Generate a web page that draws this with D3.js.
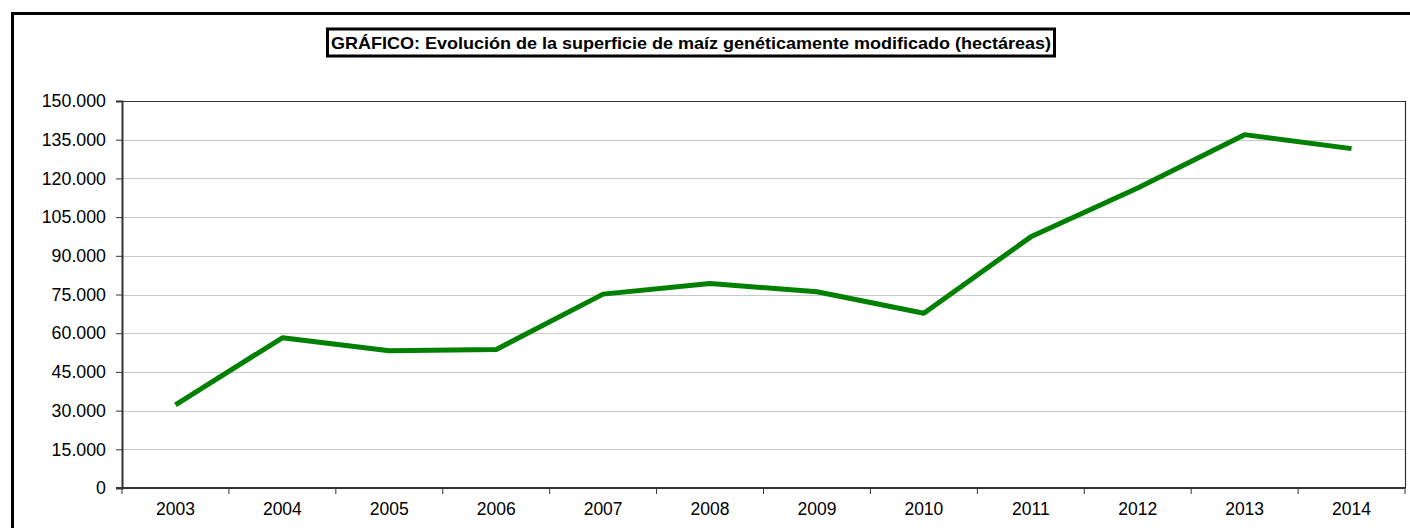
<!DOCTYPE html>
<html>
<head>
<meta charset="utf-8">
<script src="https://cdn.jsdelivr.net/npm/d3@7"></script>
<style>
  body { margin: 0; background: #fff; }
  svg { display: block; font-family: "Liberation Sans", Arial, sans-serif; }
</style>
</head>
<body>
<svg id="chart" width="1410" height="528"></svg>
<script>
let years = ["2003", "2004", "2005", "2006", "2007", "2008", "2009", "2010", "2011", "2012", "2013", "2014"];
let hectareas = [32249, 58219, 53225, 53667, 75148, 79269, 76057, 67726, 97346, 116307, 136962, 131538];
let yTicks = [0, 15000, 30000, 45000, 60000, 75000, 90000, 105000, 120000, 135000, 150000];
let titulo = "GRÁFICO: Evolución de la superficie de maíz genéticamente modificado (hectáreas)";

let svg = d3.select("#chart");

let margin = {left: 122, top: 101, right: 1405, bottom: 488};

let xScale = d3.scaleBand()
    .domain(years)
    .range([margin.left, margin.right]);

let yScale = d3.scaleLinear()
    .domain([0, 150000])
    .range([margin.bottom, margin.top]);

let fmt = d => d === 0 ? "0" : d3.format(",")(d).replace(/,/g, ".");

// outer frame
svg.append("rect")
    .attr("x", 12.5)
    .attr("y", 13.5)
    .attr("width", 1420)
    .attr("height", 540)
    .attr("fill", "none")
    .attr("stroke", "#000")
    .attr("stroke-width", 3);

// grid
svg.append("g")
    .selectAll("line")
    .data(yTicks.filter(d => d > 0 && d < 150000))
    .enter()
    .append("line")
    .attr("x1", margin.left)
    .attr("x2", margin.right)
    .attr("y1", d => Math.round(yScale(d)) + 0.5)
    .attr("y2", d => Math.round(yScale(d)) + 0.5)
    .attr("stroke", "#c8c8c8")
    .attr("stroke-width", 1);

// plot area top and right border
svg.append("path")
    .attr("d", `M${margin.left},${margin.top + 0.5}H${margin.right + 0.5}V${margin.bottom}`)
    .attr("fill", "none")
    .attr("stroke", "#333")
    .attr("stroke-width", 1.2);

// y axis
let yAxis = svg.append("g")
    .attr("transform", `translate(${margin.left},0)`)
    .call(d3.axisLeft(yScale).tickValues(yTicks).tickFormat(fmt).tickSize(6).tickPadding(10));
yAxis.select(".domain").attr("stroke", "#333").attr("stroke-width", 2);
yAxis.selectAll(".tick line").attr("stroke", "#333");
yAxis.selectAll("text")
    .attr("font-size", 17.8)
    .attr("font-family", "Liberation Sans, Arial, sans-serif")
    .attr("fill", "#000");

// x axis
let xAxis = svg.append("g")
    .attr("transform", `translate(0,${margin.bottom})`)
    .call(d3.axisBottom(xScale).tickSize(0).tickPadding(15));
xAxis.select(".domain").remove();
xAxis.selectAll("text")
    .attr("font-size", 17.5)
    .attr("font-family", "Liberation Sans, Arial, sans-serif")
    .attr("fill", "#000");

svg.append("g")
    .selectAll("line")
    .data(years.concat(["end"]))
    .enter()
    .append("line")
    .attr("x1", (d, i) => margin.left + i * xScale.step())
    .attr("x2", (d, i) => margin.left + i * xScale.step())
    .attr("y1", margin.bottom)
    .attr("y2", margin.bottom + 6)
    .attr("stroke", "#333")
    .attr("stroke-width", 1);

svg.append("line")
    .attr("x1", margin.left - 6)
    .attr("x2", margin.right + 0.5)
    .attr("y1", margin.bottom)
    .attr("y2", margin.bottom)
    .attr("stroke", "#333")
    .attr("stroke-width", 2);

// series line
let line = d3.line()
    .x((d, i) => xScale(years[i]) + xScale.bandwidth() / 2)
    .y(d => yScale(d));

svg.append("path")
    .attr("d", line(hectareas))
    .attr("fill", "none")
    .attr("stroke", "#008000")
    .attr("stroke-width", 5)
    .attr("stroke-linejoin", "round");

// title box
svg.append("rect")
    .attr("x", 327.5)
    .attr("y", 29)
    .attr("width", 727)
    .attr("height", 27)
    .attr("fill", "#fff")
    .attr("stroke", "#000")
    .attr("stroke-width", 3);

svg.append("text")
    .attr("x", 331)
    .attr("y", 49)
    .attr("font-size", 17)
    .attr("font-weight", "bold")
    .attr("textLength", 720)
    .attr("lengthAdjust", "spacingAndGlyphs")
    .text(titulo);
</script>
</body>
</html>
